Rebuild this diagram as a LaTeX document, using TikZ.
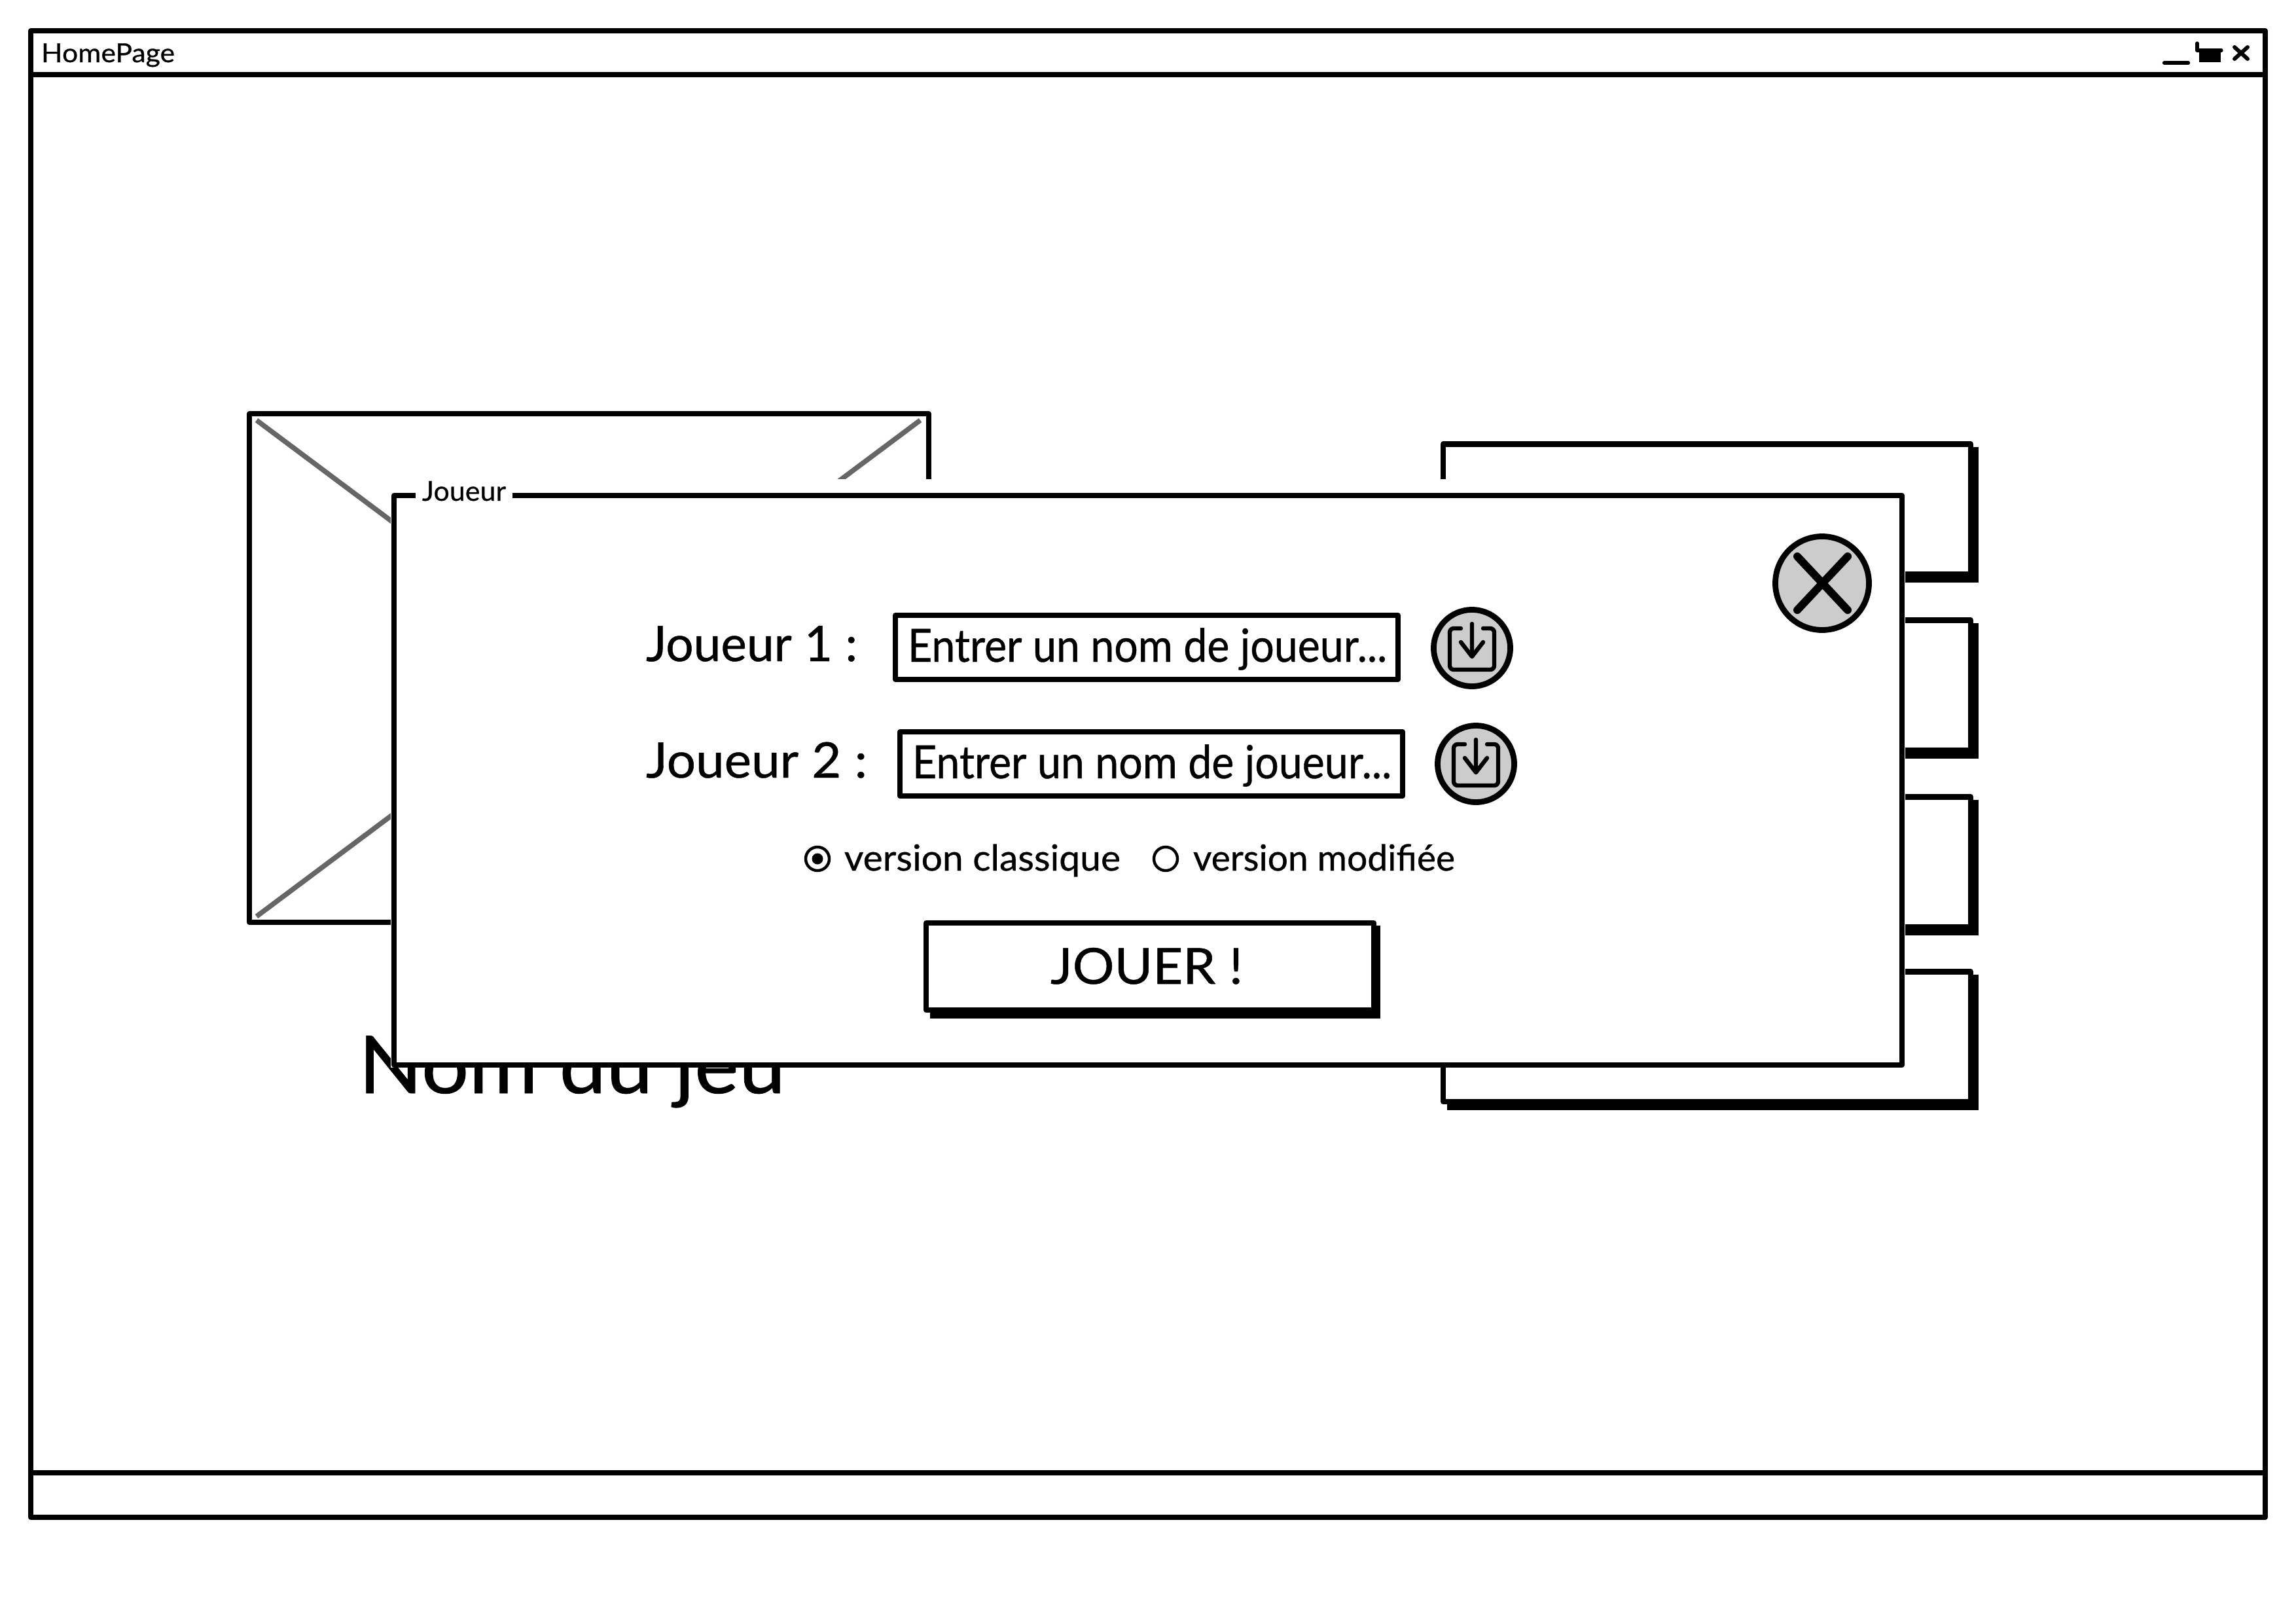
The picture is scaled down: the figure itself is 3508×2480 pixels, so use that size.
\documentclass[tikz,border=0pt]{standalone}
\usepackage{fontspec}
\usepackage{graphicx}
\setmainfont[RawFeature={embolden=0.6}]{Lato}
\newcommand\fitw[3]{\fontsize{#2}{#2}\selectfont\resizebox{#1}{\height}{#3}}
\tikzset{
  stk/.style={draw=black,line width=4.1pt,line join=round},
  boxw/.style={stk,fill=white},
  grayline/.style={draw=black!60,line width=3.8pt},
  iconring/.style={draw=black,line width=4.4pt,fill=black!20},
  iconline/.style={draw=black,line width=3.2pt,line cap=round,line join=round},
  lbl/.style={anchor=base west,inner sep=0pt,outer sep=0pt,text=black},
}
\begin{document}
\begin{tikzpicture}[x=0.5pt,y=-0.5pt]
\useasboundingbox (0,0) rectangle (3508,2480);
% window
\draw[boxw] (47,47) rectangle (3461,2318);
\draw[stk] (47,114) -- (3461,114);
\draw[stk] (47,2250) -- (3461,2250);
\node[lbl] (title) at (63,95) {\fitw{102pt}{20}{HomePage}};
\draw[iconline] (3307,96) -- (3343,96);
\draw[iconline,line width=2.6pt] (3357,66) -- (3357,77) -- (3394,77);
\fill[black] (3360,80) rectangle (3393,95);
\draw[iconline,line width=3pt] (3414,72) -- (3434,90) (3434,72) -- (3414,90);
% image placeholder
\draw[fill=white,draw=none] (379,632) rectangle (1419,1409);
\draw[grayline] (392,642) -- (1406,1400) (1406,642) -- (392,1400);
\draw[stk] (381,632) rectangle (1419,1409);
% title of the game
\node[lbl] (gamename) at (548,1670) {\fitw{326pt}{61}{Nom du jeu}};
% menu buttons
\foreach \t/\b in {678.5/877,947.5/1146,1217.5/1416,1484.5/1683}{
  \fill[black] (2211,\t+4) rectangle (3023,\b+12.5);
  \draw[boxw] (2205,\t) rectangle (3011,\b);
}
% mask and dialog
\fill[white] (597,732) rectangle (2911,1631);
\draw[stk] (602,757) -- (602,1627) -- (2906,1627) -- (2906,757) -- cycle;
\fill[white] (635,740) rectangle (783,772);
\node[lbl] (dlgtitle) at (645,765) {\fitw{64pt}{21}{Joueur}};
% close
\path[iconring] (2784,891) circle (71.5);
\draw[iconline,line width=6pt] (2746,850) -- (2823,932) (2823,850) -- (2746,932);
% row 1
\node[lbl] (j1) at (987,1010) {\fitw{161.5pt}{37.5}{Joueur 1 :}};
\draw[boxw] (1368,940) rectangle (2136,1038);
\node[lbl] (in1) at (1387,1011) {\fitw{366pt}{35}{Entrer un nom de joueur...}};
% row 2
\node[lbl] (j2) at (987,1188) {\fitw{169pt}{37.5}{Joueur 2 :}};
\draw[boxw] (1375,1118) rectangle (2143,1216);
\node[lbl] (in2) at (1394,1189) {\fitw{366pt}{35}{Entrer un nom de joueur...}};
% save icons
\foreach \cx/\cy in {2249/990,2255/1167}{
  \begin{scope}[shift={(\cx,\cy)}]
    \path[iconring] (0,0) circle (58.5);
    \draw[iconline,rounded corners=3pt] (-17,-30) -- (-34,-30) -- (-34,33) -- (34,33) -- (34,-30) -- (17,-30);
    \draw[iconline] (0,-37) -- (0,13) (-17,-9) -- (0,13) -- (17,-9);
  \end{scope}
}
% radios
\draw[draw=black,line width=2.2pt,fill=white] (1249,1312) circle (18);
\fill[black] (1249,1312) circle (8.5);
\node[lbl] (v1) at (1290,1330) {\fitw{211pt}{27.5}{version classique}};
\draw[draw=black,line width=2.2pt,fill=white] (1781,1312) circle (18);
\node[lbl] (v2) at (1823,1330) {\fitw{200pt}{27.5}{version modifiée}};
% play
\fill[black] (1421,1414) rectangle (2109,1556);
\draw[boxw] (1415,1410) rectangle (2099,1543);
\node[lbl] (play) at (1605,1503) {\fitw{147pt}{38}{JOUER !}};
\end{tikzpicture}
\end{document}
